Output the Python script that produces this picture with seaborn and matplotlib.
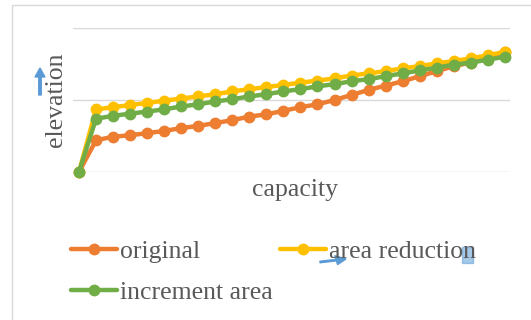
import pandas as pd
import numpy as np
import matplotlib.pyplot as plt
import seaborn as sns
from matplotlib.patches import Rectangle, FancyArrow
from matplotlib.lines import Line2D

# values (arbitrary units, one grid step = 1)
capacity_steps = list(range(26))
original = [0, 0.44, 0.49, 0.51, 0.54, 0.57, 0.61, 0.64, 0.68, 0.72, 0.77, 0.80, 0.85,
            0.90, 0.94, 1.00, 1.07, 1.14, 1.20, 1.26, 1.33, 1.40, 1.47, 1.52, 1.58, 1.66]
area_reduction = [0, 0.87, 0.90, 0.93, 0.96, 0.99, 1.02, 1.05, 1.08, 1.12, 1.15, 1.18, 1.21,
                  1.24, 1.27, 1.30, 1.34, 1.37, 1.40, 1.44, 1.47, 1.51, 1.54, 1.58, 1.62, 1.67]
increment_area = [0, 0.74, 0.78, 0.81, 0.84, 0.87, 0.91, 0.94, 0.98, 1.01, 1.05, 1.08, 1.12,
                  1.15, 1.19, 1.22, 1.26, 1.29, 1.33, 1.37, 1.41, 1.45, 1.49, 1.52, 1.56, 1.60]
series_names = ["original", "area reduction", "increment area"]
series_colors = ["#ED7D31", "#FFC000", "#70AD47"]


def BuildFrame():
    rows = []
    for name, vals in zip(series_names, [original, area_reduction, increment_area]):
        for c, v in zip(capacity_steps, vals):
            rows.append({"capacity": c, "elevation": v, "series": name})
    return pd.DataFrame(rows)


def PlotGraph(df):
    sns.set_style("white")
    plt.rcParams['font.family'] = ['Liberation Serif', 'DejaVu Serif']

    fig = plt.figure(figsize=(5.31, 3.2), dpi=100)
    W, H = 531, 320
    ax = fig.add_axes([73 / W, 1 - 172 / H, (510 - 73) / W, (172 - 28) / H])

    sns.lineplot(data=df, x="capacity", y="elevation", hue="series",
                 hue_order=series_names, palette=series_colors,
                 marker="o", markersize=8.5, markeredgewidth=0, linewidth=3.2,
                 ax=ax, legend=False)
    for ln in ax.lines:
        ln.set_clip_on(False)

    ax.set_xlim(-0.35, 25.3)
    ax.set_ylim(0, 2)
    ax.set_yticks([0, 1, 2])
    ax.set_xticks([])
    ax.set_yticklabels([])
    ax.tick_params(left=False, bottom=False)
    ax.grid(axis="y", color="#D9D9D9", linewidth=1)
    ax.set_axisbelow(True)
    for s in ax.spines.values():
        s.set_visible(False)
    ax.set_xlabel("")
    ax.set_ylabel("")

    txt = "#595959"
    fig.text(56 / W, 1 - 100 / H, "elevation", rotation=90, ha="center", va="center",
             fontsize=18.5, color=txt)
    fig.text(295 / W, 1 - 190 / H, "capacity", ha="center", va="center",
             fontsize=18.5, color=txt)

    # outer chart border
    fig.patches.append(Rectangle((12 / W, -0.05), 1.0, 1 - 5 / H + 0.05,
                                 transform=fig.transFigure, fill=False,
                                 edgecolor="#D9D9D9", linewidth=1))

    # legend (Excel order: row-wise)
    h = [Line2D([], [], color=c, linewidth=3.2, marker="o", markersize=8.5,
                markeredgewidth=0) for c in series_colors]
    leg = fig.legend([h[0], h[2], h[1]],
                     [series_names[0], series_names[2], series_names[1]],
                     ncol=2, loc="upper left", bbox_to_anchor=(71 / W, 1 - 240 / H),
                     frameon=False, fontsize=18.5, handlelength=1.8,
                     handletextpad=0.12, columnspacing=0.25, labelspacing=0.72,
                     borderpad=0, borderaxespad=0)
    for t in leg.get_texts():
        t.set_color(txt)

    # small blue arrows in the picture
    blue = "#5B9BD5"
    fig.patches.append(FancyArrow(
        40 / W, 1 - 95 / H, 0, 27 / H, width=1.5 / H, head_width=10 / W,
        head_length=9 / H, color=blue, transform=fig.transFigure,
        length_includes_head=True))
    fig.patches.append(FancyArrow(
        320 / W, 1 - 262 / H, 26 / W, 3 / H, width=1.5 / H, head_width=9 / H,
        head_length=10 / W, color=blue, transform=fig.transFigure,
        length_includes_head=True))
    fig.patches.append(Rectangle((462 / W, 1 - 263 / H), 11 / W, 16 / H,
                                 transform=fig.transFigure, color=blue, alpha=0.55,
                                 zorder=5))

    fig.savefig("out.png", dpi=100)


def main():
    df = BuildFrame()
    PlotGraph(df)


if __name__ == "__main__":
    main()
